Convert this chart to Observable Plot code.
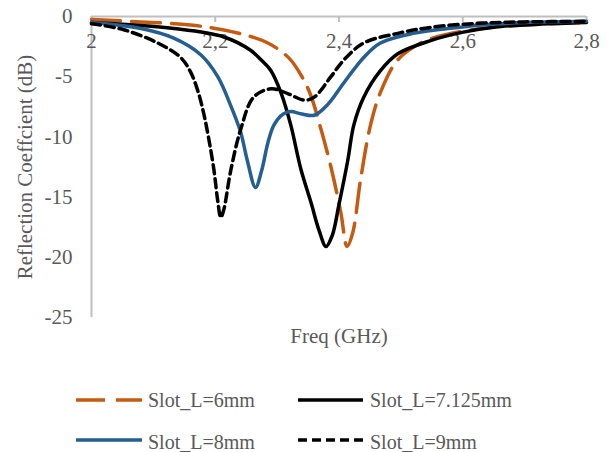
<!DOCTYPE html>
<html>
<head>
<meta charset="utf-8">
<script src="https://cdn.jsdelivr.net/npm/d3@7"></script>
<script src="https://cdn.jsdelivr.net/npm/@observablehq/plot@0.6"></script>
<style>
  body { margin: 0; background: #fff; }
  #wrap { position: relative; width: 615px; height: 452px; font-family: "Liberation Serif", "DejaVu Serif", serif; }
</style>
</head>
<body>
<div id="wrap"><div id="chart"></div><div id="legend"></div></div>
<script>
// ---- data ----
const seriesNames = ["Slot_L=6mm", "Slot_L=7.125mm", "Slot_L=8mm", "Slot_L=9mm"];

const freq6 = [2.00, 2.08, 2.16, 2.23, 2.285, 2.32, 2.34, 2.354, 2.37, 2.387, 2.403, 2.413, 2.422, 2.435, 2.451, 2.467, 2.495, 2.532, 2.565, 2.63, 2.7, 2.8];
const db6   = [-0.25, -0.45, -0.7, -1.3, -2.2, -3.5, -5.0, -6.5, -9.2, -12.5, -16.3, -19.1, -18.0, -13.5, -9.0, -6.3, -3.6, -2.2, -1.6, -1.0, -0.7, -0.5];

const freq7 = [2.00, 2.133, 2.214, 2.257, 2.274, 2.29, 2.306, 2.322, 2.338, 2.355, 2.368, 2.379, 2.389, 2.4, 2.414, 2.424, 2.44, 2.467, 2.495, 2.548, 2.601, 2.65, 2.7, 2.8];
const db7   = [-0.5, -1.0, -1.7, -2.8, -3.6, -4.5, -6.3, -9.0, -12.6, -15.5, -17.8, -19.1, -18.2, -15.6, -12.0, -9.0, -6.7, -4.5, -3.1, -2.0, -1.3, -0.9, -0.7, -0.5];

const freq8 = [2.00, 2.08, 2.133, 2.177, 2.204, 2.225, 2.241, 2.252, 2.265, 2.275, 2.285, 2.295, 2.31, 2.322, 2.34, 2.36, 2.382, 2.408, 2.44, 2.467, 2.52, 2.576, 2.63, 2.7, 2.8];
const db8   = [-0.5, -1.0, -1.8, -3.2, -5.0, -7.4, -9.6, -12.0, -14.2, -12.8, -10.5, -9.0, -8.1, -7.9, -8.1, -8.2, -7.3, -5.5, -3.4, -2.2, -1.4, -1.0, -0.7, -0.5, -0.4];

const freq9 = [2.00, 2.052, 2.107, 2.144, 2.16, 2.172, 2.182, 2.19, 2.198, 2.204, 2.209, 2.214, 2.225, 2.241, 2.262, 2.29, 2.317, 2.344, 2.36, 2.387, 2.408, 2.44, 2.495, 2.548, 2.63, 2.7, 2.8];
const db9   = [-0.6, -1.1, -2.2, -3.4, -4.6, -6.2, -8.2, -10.3, -12.8, -15.3, -16.7, -16.0, -12.8, -9.4, -6.7, -6.0, -6.4, -6.95, -6.7, -5.0, -3.6, -2.2, -1.4, -0.9, -0.55, -0.45, -0.4];

const xTicks = [2, 2.2, 2.4, 2.6, 2.8];
const yTicks = [0, -5, -10, -15, -20, -25];
const xTitle = "Freq (GHz)";
const yTitle = "Reflection Coeffcient (dB)";

// ---- styles ----
const styles = [
  {color: "#c55a11", dash: "29,11"},
  {color: "#000000", dash: null},
  {color: "#255e91", dash: null},
  {color: "#000000", dash: "9,5"}
];
const gray = "#595959";
const axisGray = "#bfbfbf";
const serif = "Liberation Serif, DejaVu Serif, serif";

const toRows = (fs, ds) => fs.map((f, i) => ({f, db: ds[i]}));
const rows = [toRows(freq6, db6), toRows(freq7, db7), toRows(freq8, db8), toRows(freq9, db9)];
const fmt = d => String(d).replace(".", ",");

const lineMarks = rows.map((r, i) => Plot.line(r, {
  x: "f", y: "db", curve: "catmull-rom",
  stroke: styles[i].color, strokeWidth: 3.5,
  strokeDasharray: styles[i].dash || undefined
}));

const chart = Plot.plot({
  width: 615, height: 360,
  marginLeft: 91, marginRight: 29, marginTop: 16, marginBottom: 43,
  style: {fontFamily: serif, fontSize: "21px", color: gray, background: "#fff"},
  x: {domain: [2, 2.8], axis: null},
  y: {domain: [-25, 0]},
  marks: [
    Plot.ruleX([2], {stroke: axisGray, strokeWidth: 2}),
    Plot.ruleY([0], {stroke: axisGray, strokeWidth: 2}),
    Plot.ruleX(xTicks, {x: d => d, y1: 0, y2: -0.5, stroke: axisGray, strokeWidth: 2}),
    Plot.text(xTicks, {x: d => d, y: 0, dy: 25, text: fmt, fill: gray, fontSize: 21, fontFamily: serif, lineAnchor: "middle"}),
    Plot.axisY({ticks: yTicks, tickSize: 0, tickPadding: 19, tickFormat: d => String(d), fontSize: 21, fontFamily: serif, fill: gray, label: null}),
    Plot.text([xTitle], {frameAnchor: "bottom", dy: 19, text: d => d, fill: gray, fontSize: 21, fontFamily: serif, lineAnchor: "middle"}),
    Plot.text([yTitle], {frameAnchor: "left", dx: -66, rotate: -90, textAnchor: "middle", text: d => d, fill: gray, fontSize: 21, fontFamily: serif, lineAnchor: "middle"}),
    ...lineMarks
  ]
});
document.getElementById("chart").appendChild(chart);

// ---- legend ----
const leg = d3.select("#legend").append("svg")
  .attr("width", 615).attr("height", 92)
  .style("display", "block");
const pos = [
  {x1: 76, x2: 142, tx: 148, y: 40, ty: 47},
  {x1: 298, x2: 363, tx: 370, y: 40, ty: 47},
  {x1: 76, x2: 142, tx: 148, y: 80, ty: 89},
  {x1: 298, x2: 363, tx: 370, y: 80, ty: 89}
];
seriesNames.forEach((name, i) => {
  const p = pos[i];
  leg.append("line").attr("x1", p.x1).attr("x2", p.x2).attr("y1", p.y).attr("y2", p.y)
    .attr("stroke", styles[i].color).attr("stroke-width", 3.5)
    .attr("stroke-dasharray", styles[i].dash);
  leg.append("text").attr("x", p.tx).attr("y", p.ty).text(name)
    .attr("fill", gray).attr("font-size", 20)
    .attr("font-family", serif);
});
</script>
</body>
</html>
